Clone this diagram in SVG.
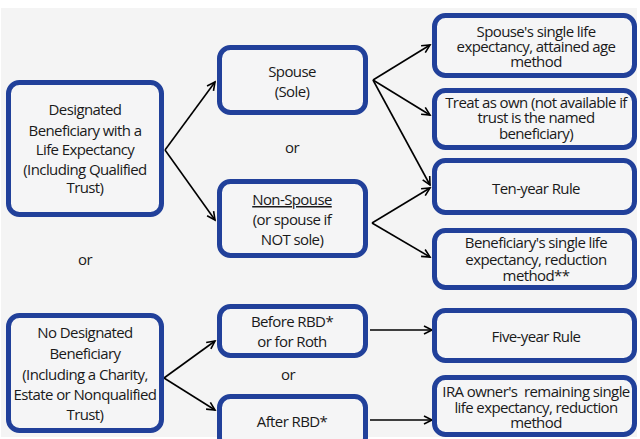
<svg xmlns="http://www.w3.org/2000/svg" width="640" height="439" viewBox="0 0 640 439">
<style>
.box{fill:#f5f5f6;stroke:#21409a;stroke-width:5}
.t{font-family:"Open Sans","Liberation Sans",sans-serif;font-size:15px;letter-spacing:-0.6px;fill:#1a1a1a;text-anchor:middle}
.c{stroke:#000;stroke-width:1.6;fill:none}
</style>
<defs>
<marker id="ah" markerUnits="userSpaceOnUse" markerWidth="12" markerHeight="12" refX="9" refY="5" orient="auto">
<path d="M1,1 L9,5 L1,9" fill="none" stroke="#000" stroke-width="1.6"/>
</marker>
</defs>
<rect x="0" y="0" width="640" height="439" fill="#ffffff"/>
<rect x="1" y="8" width="636" height="429" fill="#f4f4f4"/>
<g id="connectors">
<line class="c" x1="165" y1="150" x2="215" y2="82" marker-end="url(#ah)"/>
<line class="c" x1="165" y1="150" x2="215" y2="220" marker-end="url(#ah)"/>
<line class="c" x1="373" y1="80" x2="430" y2="45" marker-end="url(#ah)"/>
<line class="c" x1="373" y1="80" x2="430" y2="115" marker-end="url(#ah)"/>
<line class="c" x1="373" y1="80" x2="430" y2="185" marker-end="url(#ah)"/>
<line class="c" x1="372" y1="223" x2="430" y2="188" marker-end="url(#ah)"/>
<line class="c" x1="372" y1="223" x2="430" y2="257" marker-end="url(#ah)"/>
<line class="c" x1="164" y1="378" x2="215" y2="341" marker-end="url(#ah)"/>
<line class="c" x1="164" y1="378" x2="215" y2="410" marker-end="url(#ah)"/>
<line class="c" x1="370" y1="330" x2="432" y2="330" marker-end="url(#ah)"/>
<line class="c" x1="370" y1="420" x2="432" y2="420" marker-end="url(#ah)"/>
</g>
<g id="designated">
<rect class="box" x="8.5" y="82.5" width="153" height="132" rx="11"/>
<text class="t"><tspan x="85" y="115">Designated</tspan><tspan x="85" y="136">Beneficiary with a</tspan><tspan x="85" y="155">Life Expectancy</tspan><tspan x="85" y="175">(Including Qualified</tspan><tspan x="85" y="193">Trust)</tspan></text>
</g>
<text class="t" x="85" y="265">or</text>
<g id="nodesignated">
<rect class="box" x="8.5" y="315.5" width="153" height="115" rx="11"/>
<text class="t"><tspan x="85" y="338">No Designated</tspan><tspan x="85" y="359">Beneficiary</tspan><tspan x="85" y="380">(Including a Charity,</tspan><tspan x="85" y="400">Estate or Nonqualified</tspan><tspan x="85" y="420">Trust)</tspan></text>
</g>
<g id="spouse">
<rect class="box" x="219.5" y="47.5" width="146" height="65" rx="11"/>
<text class="t"><tspan x="292" y="77">Spouse</tspan><tspan x="292" y="97">(Sole)</tspan></text>
</g>
<text class="t" x="292" y="153">or</text>
<g id="nonspouse">
<rect class="box" x="219.5" y="181.5" width="146" height="74" rx="11"/>
<text class="t"><tspan x="292" y="205" text-decoration="underline">Non-Spouse</tspan><tspan x="292" y="225">(or spouse if</tspan><tspan x="292" y="245">NOT sole)</tspan></text>
</g>
<g id="beforerbd">
<rect class="box" x="219.5" y="306.5" width="146" height="49" rx="11"/>
<text class="t"><tspan x="292" y="327">Before RBD*</tspan><tspan x="292" y="347">or for Roth</tspan></text>
</g>
<text class="t" x="288" y="380">or</text>
<g id="afterrbd">
<rect class="box" x="219.5" y="396.5" width="146" height="52" rx="11"/>
<text class="t" x="292" y="427">After RBD*</text>
</g>
<g id="attained">
<rect class="box" x="434.5" y="15.5" width="200" height="60" rx="11"/>
<text class="t"><tspan x="536" y="37">Spouse's single life</tspan><tspan x="536" y="52">expectancy, attained age</tspan><tspan x="536" y="67">method</tspan></text>
</g>
<g id="treatown">
<rect class="box" x="434.5" y="90.5" width="200" height="57" rx="11"/>
<text class="t"><tspan x="536" y="108">Treat as own (not available if</tspan><tspan x="536" y="123">trust is the named</tspan><tspan x="536" y="139">beneficiary)</tspan></text>
</g>
<g id="tenyear">
<rect class="box" x="434.5" y="160.5" width="200" height="52" rx="11"/>
<text class="t" x="536" y="194">Ten-year Rule</text>
</g>
<g id="reduction">
<rect class="box" x="434.5" y="230.5" width="200" height="57" rx="11"/>
<text class="t"><tspan x="536" y="248">Beneficiary's single life</tspan><tspan x="536" y="265">expectancy, reduction</tspan><tspan x="536" y="281">method**</tspan></text>
</g>
<g id="fiveyear">
<rect class="box" x="434.5" y="310.5" width="200" height="50" rx="11"/>
<text class="t" x="536" y="342">Five-year Rule</text>
</g>
<g id="iraowner">
<rect class="box" x="434.5" y="377.5" width="200" height="57" rx="11"/>
<text class="t" style="white-space:pre"><tspan x="536" y="397">IRA owner's  remaining single</tspan><tspan x="536" y="413">life expectancy, reduction</tspan><tspan x="536" y="428">method</tspan></text>
</g>
</svg>
